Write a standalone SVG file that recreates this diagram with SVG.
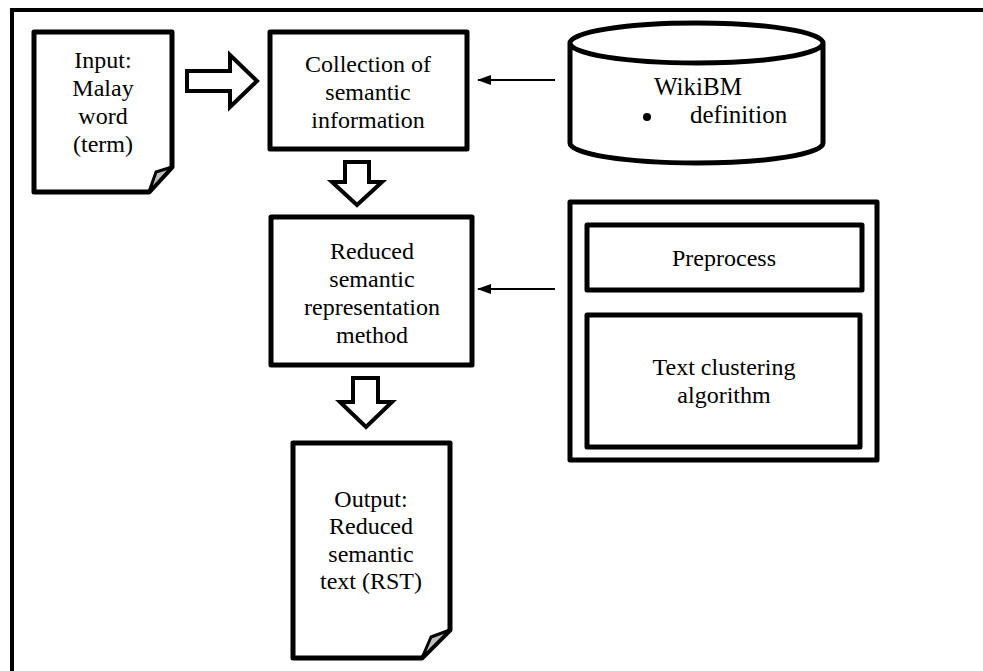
<svg xmlns="http://www.w3.org/2000/svg" width="983" height="671" viewBox="0 0 983 671">
<defs>
<marker id="ah" viewBox="0 0 14 10" refX="13" refY="5" markerWidth="14" markerHeight="10" markerUnits="userSpaceOnUse" orient="auto">
<path d="M0,0 L14,5 L0,10 Z" fill="#000"/>
</marker>
</defs>
<style>
.box{fill:#fff;stroke:#000;stroke-width:5;stroke-linejoin:round}
.hol{fill:#fff;stroke:#000;stroke-width:4;stroke-linejoin:miter}
.fold{fill:#bfbfbf;stroke:#000;stroke-width:3;stroke-linejoin:round}
.t{font-family:"Liberation Serif","Times New Roman",serif;font-size:24px;fill:#000;text-anchor:middle}
.ts{font-family:"Liberation Serif","Times New Roman",serif;font-size:25px;fill:#000}
.thin{stroke:#000;stroke-width:2;fill:none}
</style>
<rect width="983" height="671" fill="#fff"/>
<path d="M12,671 V10 H983" fill="none" stroke="#000" stroke-width="4"/>

<g id="input">
<path class="box" d="M34,32 H172 V167 L149,192 H34 Z"/>
<path class="fold" d="M172,167 L156,172 L149,192 Z"/>
<text class="t" x="103" y="68">Input:</text>
<text class="t" x="103" y="96">Malay</text>
<text class="t" x="103" y="124">word</text>
<text class="t" x="103" y="152">(term)</text>
</g>

<g id="collection">
<rect class="box" x="270" y="32" width="197" height="117"/>
<text class="t" x="368" y="72">Collection of</text>
<text class="t" x="368" y="100">semantic</text>
<text class="t" x="368" y="128">information</text>
</g>

<g id="wikibm">
<path class="box" d="M570,43 V143 A126.5,20 0 0 0 823,143 V43 A126.5,20 0 0 0 570,43 A126.5,20 0 0 0 823,43"/>
<text class="ts" x="654" y="95">WikiBM</text>
<circle cx="647" cy="117" r="4" fill="#000"/>
<text class="ts" x="690" y="123">definition</text>
</g>

<g id="reduced">
<rect class="box" x="271" y="217" width="201" height="148"/>
<text class="t" x="372" y="259">Reduced</text>
<text class="t" x="372" y="287">semantic</text>
<text class="t" x="372" y="315">representation</text>
<text class="t" x="372" y="343">method</text>
</g>

<g id="methods">
<rect class="box" x="570" y="202" width="307" height="258"/>
<g id="preprocess">
<rect class="box" x="587" y="225" width="275" height="65"/>
<text class="t" x="724" y="266">Preprocess</text>
</g>
<g id="clustering">
<rect class="box" x="587" y="315" width="273" height="132"/>
<text class="t" x="724" y="375">Text clustering</text>
<text class="t" x="724" y="403">algorithm</text>
</g>
</g>

<g id="output">
<path class="box" d="M293,443 H450 V630 L422,658 H293 Z"/>
<path class="fold" d="M450,630 L431,637 L422,658 Z"/>
<text class="t" x="371" y="507">Output:</text>
<text class="t" x="371" y="534">Reduced</text>
<text class="t" x="371" y="562">semantic</text>
<text class="t" x="371" y="589">text (RST)</text>
</g>

<g id="connectors">
<path class="hol" d="M187,71 H230 V55 L257,81 L230,107 V91 H187 Z"/>
<path class="hol" d="M345,162 H369 V182 H382 L357,205 L332,182 H345 Z"/>
<path class="hol" d="M353,378 H378 V402 H392 L366,427 L340,402 H353 Z"/>
<line class="thin" x1="555" y1="80" x2="478" y2="80" marker-end="url(#ah)"/>
<line class="thin" x1="555" y1="289" x2="478" y2="289" marker-end="url(#ah)"/>
</g>
</svg>
